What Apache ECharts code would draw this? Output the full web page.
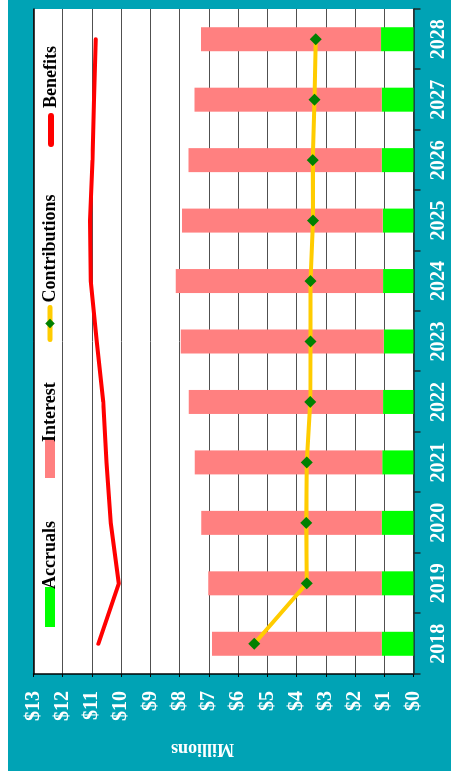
<!DOCTYPE html>
<html>
<head>
<meta charset="utf-8">
<script src="https://cdn.jsdelivr.net/npm/echarts@6/dist/echarts.min.js"></script>
<style>
  html, body { margin: 0; padding: 0; width: 451px; height: 782px; overflow: hidden; background: #fff; }
  #wrap { position: absolute; left: 0; top: 0; width: 782px; height: 451px;
          transform-origin: 0 0; transform: translate(0px, 782px) rotate(-90deg); background: #fff; }
  #teal { position: absolute; left: 11px; top: 8px; width: 771px; height: 443px; background: #00A3B5; }
  #chart { position: absolute; left: 0; top: 0; width: 782px; height: 451px; }
</style>
</head>
<body>
<div id="wrap"><div id="teal"></div><div id="chart"></div></div>
<script>
const years = ['2018','2019','2020','2021','2022','2023','2024','2025','2026','2027','2028'];
const accruals = [1.09, 1.09, 1.09, 1.07, 1.04, 1.02, 1.04, 1.05, 1.09, 1.09, 1.11];
const interest = [5.80, 5.93, 6.17, 6.41, 6.65, 6.94, 7.09, 6.87, 6.61, 6.40, 6.16];
const contributions = [5.45, 3.65, 3.67, 3.65, 3.53, 3.52, 3.52, 3.44, 3.45, 3.39, 3.34];
const benefits = [10.78, 10.08, 10.36, 10.50, 10.61, 10.84, 11.04, 11.07, 10.98, 10.93, 10.87];
const valueTicks = { min: 0, max: 13, interval: 1 };

const serif = "'Liberation Serif', 'DejaVu Serif', serif";
const chart = echarts.init(document.getElementById('chart'), null, { renderer: 'canvas' });

const capsule = 'path://M3,0 L31,0 A3,3 0 0 1 31,6 L3,6 A3,3 0 0 1 3,0 Z';

function legendAt(item, left, w, h, top, textShift) {
  return {
    data: [item], left: left, top: top, orient: 'horizontal',
    itemWidth: w, itemHeight: h, itemGap: 5,
    lineStyle: { width: 5, cap: 'round' },
    textStyle: { fontFamily: serif, fontWeight: 'bold', fontSize: 18, color: '#000',
                 padding: [0, 0, 0, textShift] }
  };
}

chart.setOption({
  animation: false,
  backgroundColor: 'transparent',
  grid: { left: 108, right: 9, top: 33.5, bottom: 37.5, show: true, backgroundColor: '#fff', borderWidth: 0 },
  legend: [
    legendAt({ name: 'Accruals', icon: 'rect' }, 150, 40, 10, 36, -7),
    legendAt({ name: 'Interest', icon: 'rect' }, 299, 40, 10, 36, -9),
    legendAt({ name: 'Contributions' }, 435, 32, 12, 36, 0),
    legendAt({ name: 'Benefits', icon: capsule }, 630, 34, 6, 37, 0)
  ],
  xAxis: [{
    type: 'category', data: years, position: 'bottom', boundaryGap: true,
    axisLine: { show: true, lineStyle: { color: '#1c2b2d', width: 1.5 } },
    axisTick: { show: true, length: 7, lineStyle: { color: '#1c2b2d', width: 1.5 } },
    axisLabel: { interval: 0, margin: 15, color: '#fff', fontFamily: serif, fontWeight: 'bold', fontSize: 20 },
    splitLine: { show: false }
  }, {
    type: 'category', data: years, position: 'top',
    axisLine: { show: true, lineStyle: { color: '#000', width: 1.5 } },
    axisTick: { show: false }, axisLabel: { show: false }, splitLine: { show: false }
  }],
  yAxis: {
    type: 'value', min: valueTicks.min, max: valueTicks.max, interval: valueTicks.interval,
    name: 'Millions', nameLocation: 'middle', nameRotate: 90, nameGap: 66,
    nameTextStyle: { color: '#fff', fontFamily: serif, fontWeight: 'bold', fontSize: 18, padding: [0, 0, 0, 42] },
    axisLine: { show: true, lineStyle: { color: '#000', width: 1.5 } },
    axisTick: { show: true, length: 3, lineStyle: { color: '#000' } },
    axisLabel: { margin: 17, color: '#fff', fontFamily: serif, fontWeight: 'bold', fontSize: 20,
                 formatter: v => '$' + v },
    splitLine: { show: true, lineStyle: { color: '#505050', width: 1 } }
  },
  series: [
    { name: 'Accruals', type: 'bar', stack: 'total', data: accruals, barWidth: 24,
      itemStyle: { color: '#00FF00' } },
    { name: 'Interest', type: 'bar', stack: 'total', data: interest, barWidth: 24,
      itemStyle: { color: '#FF8080' } },
    { name: 'Contributions', type: 'line', data: contributions, symbol: 'diamond', symbolSize: 12,
      lineStyle: { color: '#FFCC00', width: 4, cap: 'round' }, itemStyle: { color: '#008000' }, z: 5 },
    { name: 'Benefits', type: 'line', data: benefits, symbol: 'none', showSymbol: false,
      lineStyle: { color: '#FF0000', width: 4, cap: 'round' }, itemStyle: { color: '#FF0000' }, z: 5 }
  ]
});
</script>
</body>
</html>
